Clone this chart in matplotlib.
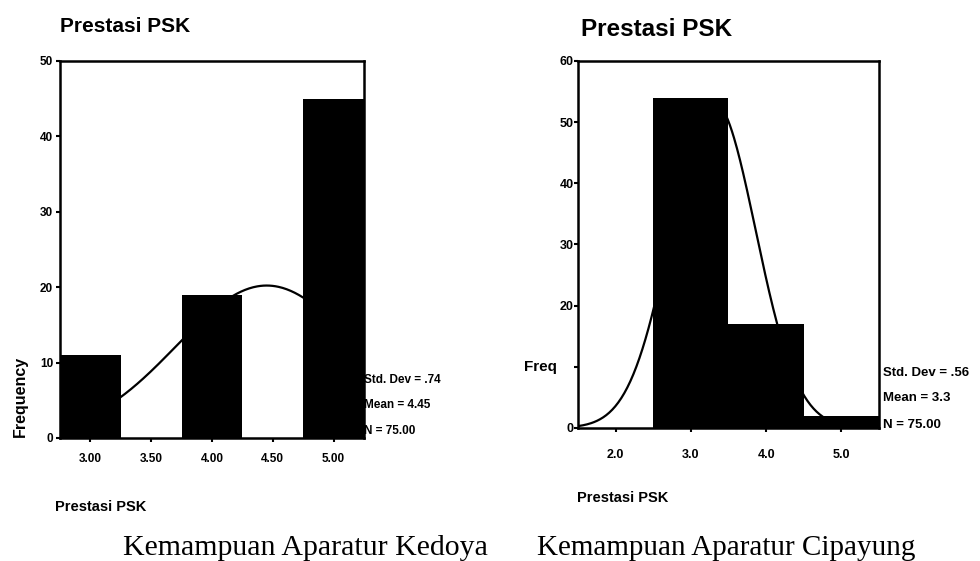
import numpy as np
import matplotlib
matplotlib.use('Agg')
import matplotlib.pyplot as plt

# Kedoya histogram (bin width 0.5)
kedoya_bins = [3.0, 3.5, 4.0, 4.5, 5.0]
kedoya_counts = [11, 0, 19, 0, 45]
kedoya_ticks = ['3.00', '3.50', '4.00', '4.50', '5.00']
kedoya_std, kedoya_mean, kedoya_n = 0.74, 4.45, 75

# Cipayung histogram (bin width 1.0)
cipayung_bins = [2.0, 3.0, 4.0, 5.0]
cipayung_counts = [0, 54, 17, 2]
cipayung_ticks = ['2.0', '3.0', '4.0', '5.0']
cipayung_std, cipayung_mean, cipayung_n = 0.56, 3.3, 75

narrow = ['Liberation Sans Narrow', 'Liberation Sans', 'DejaVu Sans']
sans = ['Liberation Sans', 'DejaVu Sans']
serif = ['Liberation Serif', 'DejaVu Serif']


def normal_curve(xs, mean, std, n, width):
    return n * width / (std * np.sqrt(2 * np.pi)) * np.exp(-0.5 * ((xs - mean) / std) ** 2)


def set_frame(ax):
    for s in ax.spines.values():
        s.set_linewidth(1.8)
        s.set_color('black')
    ax.tick_params(axis='both', length=3, width=1.5, pad=2)


fig = plt.figure(figsize=(9.8, 5.61), dpi=100)

# ---- left: Kedoya
ax1 = fig.add_axes([0.0612, 0.2193, 0.3102, 0.672])
set_frame(ax1)
xs = np.linspace(2.75, 5.25, 300)
ax1.plot(xs, normal_curve(xs, kedoya_mean, kedoya_std, kedoya_n, 0.5), color='black', lw=1.6, zorder=1)
ax1.bar(kedoya_bins, kedoya_counts, width=0.5, color='black', zorder=2)
ax1.set_xlim(2.75, 5.25)
ax1.set_ylim(0, 50)
ax1.set_xticks(kedoya_bins)
ax1.set_xticklabels(kedoya_ticks, family=narrow, fontweight='bold', fontsize=8.5)
ax1.set_yticks([0, 10, 20, 30, 40, 50])
ax1.set_yticklabels(['0', '10', '20', '30', '40', '50'], family=narrow, fontweight='bold', fontsize=8.5)
ax1.tick_params(axis='x', pad=8)

fig.text(0.0612, 0.952, 'Prestasi PSK', family=narrow, fontweight='bold', fontsize=15, va='center', ha='left')
fig.text(0.056, 0.096, 'Prestasi PSK', family=narrow, fontweight='bold', fontsize=10.5, va='center', ha='left')
fig.text(0.021, 0.294, 'Frequency', family=narrow, fontweight='bold', fontsize=11.5, rotation=90, va='center', ha='center')
fig.text(0.371, 0.323, 'Std. Dev = .74', family=narrow, fontweight='bold', fontsize=8.5, va='center')
fig.text(0.371, 0.278, 'Mean = %.2f' % kedoya_mean, family=narrow, fontweight='bold', fontsize=8.5, va='center')
fig.text(0.371, 0.232, 'N = %.2f' % kedoya_n, family=narrow, fontweight='bold', fontsize=8.5, va='center')
fig.text(0.125, 0.0107, 'Kemampuan Aparatur Kedoya', family=serif, fontsize=21.5, va='baseline', ha='left')

# ---- right: Cipayung
ax2 = fig.add_axes([0.5898, 0.2371, 0.3071, 0.6542])
set_frame(ax2)
xs2 = np.linspace(1.5, 5.5, 300)
ax2.plot(xs2, normal_curve(xs2, cipayung_mean, cipayung_std, cipayung_n, 1.0), color='black', lw=1.6, zorder=1)
ax2.bar(cipayung_bins, cipayung_counts, width=1.0, color='black', zorder=2)
ax2.set_xlim(1.5, 5.5)
ax2.set_ylim(0, 60)
ax2.set_xticks(cipayung_bins)
ax2.set_xticklabels(cipayung_ticks, family=sans, fontweight='bold', fontsize=9)
ax2.set_yticks([0, 10, 20, 30, 40, 50, 60])
ax2.set_yticklabels(['0', '', '20', '30', '40', '50', '60'], family=sans, fontweight='bold', fontsize=9)
ax2.tick_params(axis='y', pad=0)
ax2.tick_params(axis='x', pad=12)

fig.text(0.593, 0.947, 'Prestasi PSK', family=sans, fontweight='bold', fontsize=17.5, va='center', ha='left')
fig.text(0.589, 0.112, 'Prestasi PSK', family=sans, fontweight='bold', fontsize=10.5, va='center', ha='left')
fig.text(0.535, 0.345, 'Freq', family=sans, fontweight='bold', fontsize=11, va='center', ha='left')
fig.text(0.901, 0.335, 'Std. Dev = .56', family=sans, fontweight='bold', fontsize=9.5, va='center')
fig.text(0.901, 0.291, 'Mean = %.1f' % cipayung_mean, family=sans, fontweight='bold', fontsize=9.5, va='center')
fig.text(0.901, 0.243, 'N = %.2f' % cipayung_n, family=sans, fontweight='bold', fontsize=9.5, va='center')
fig.text(0.548, 0.0107, 'Kemampuan Aparatur Cipayung', family=serif, fontsize=21, va='baseline', ha='left')

fig.savefig('out.png', dpi=100)
